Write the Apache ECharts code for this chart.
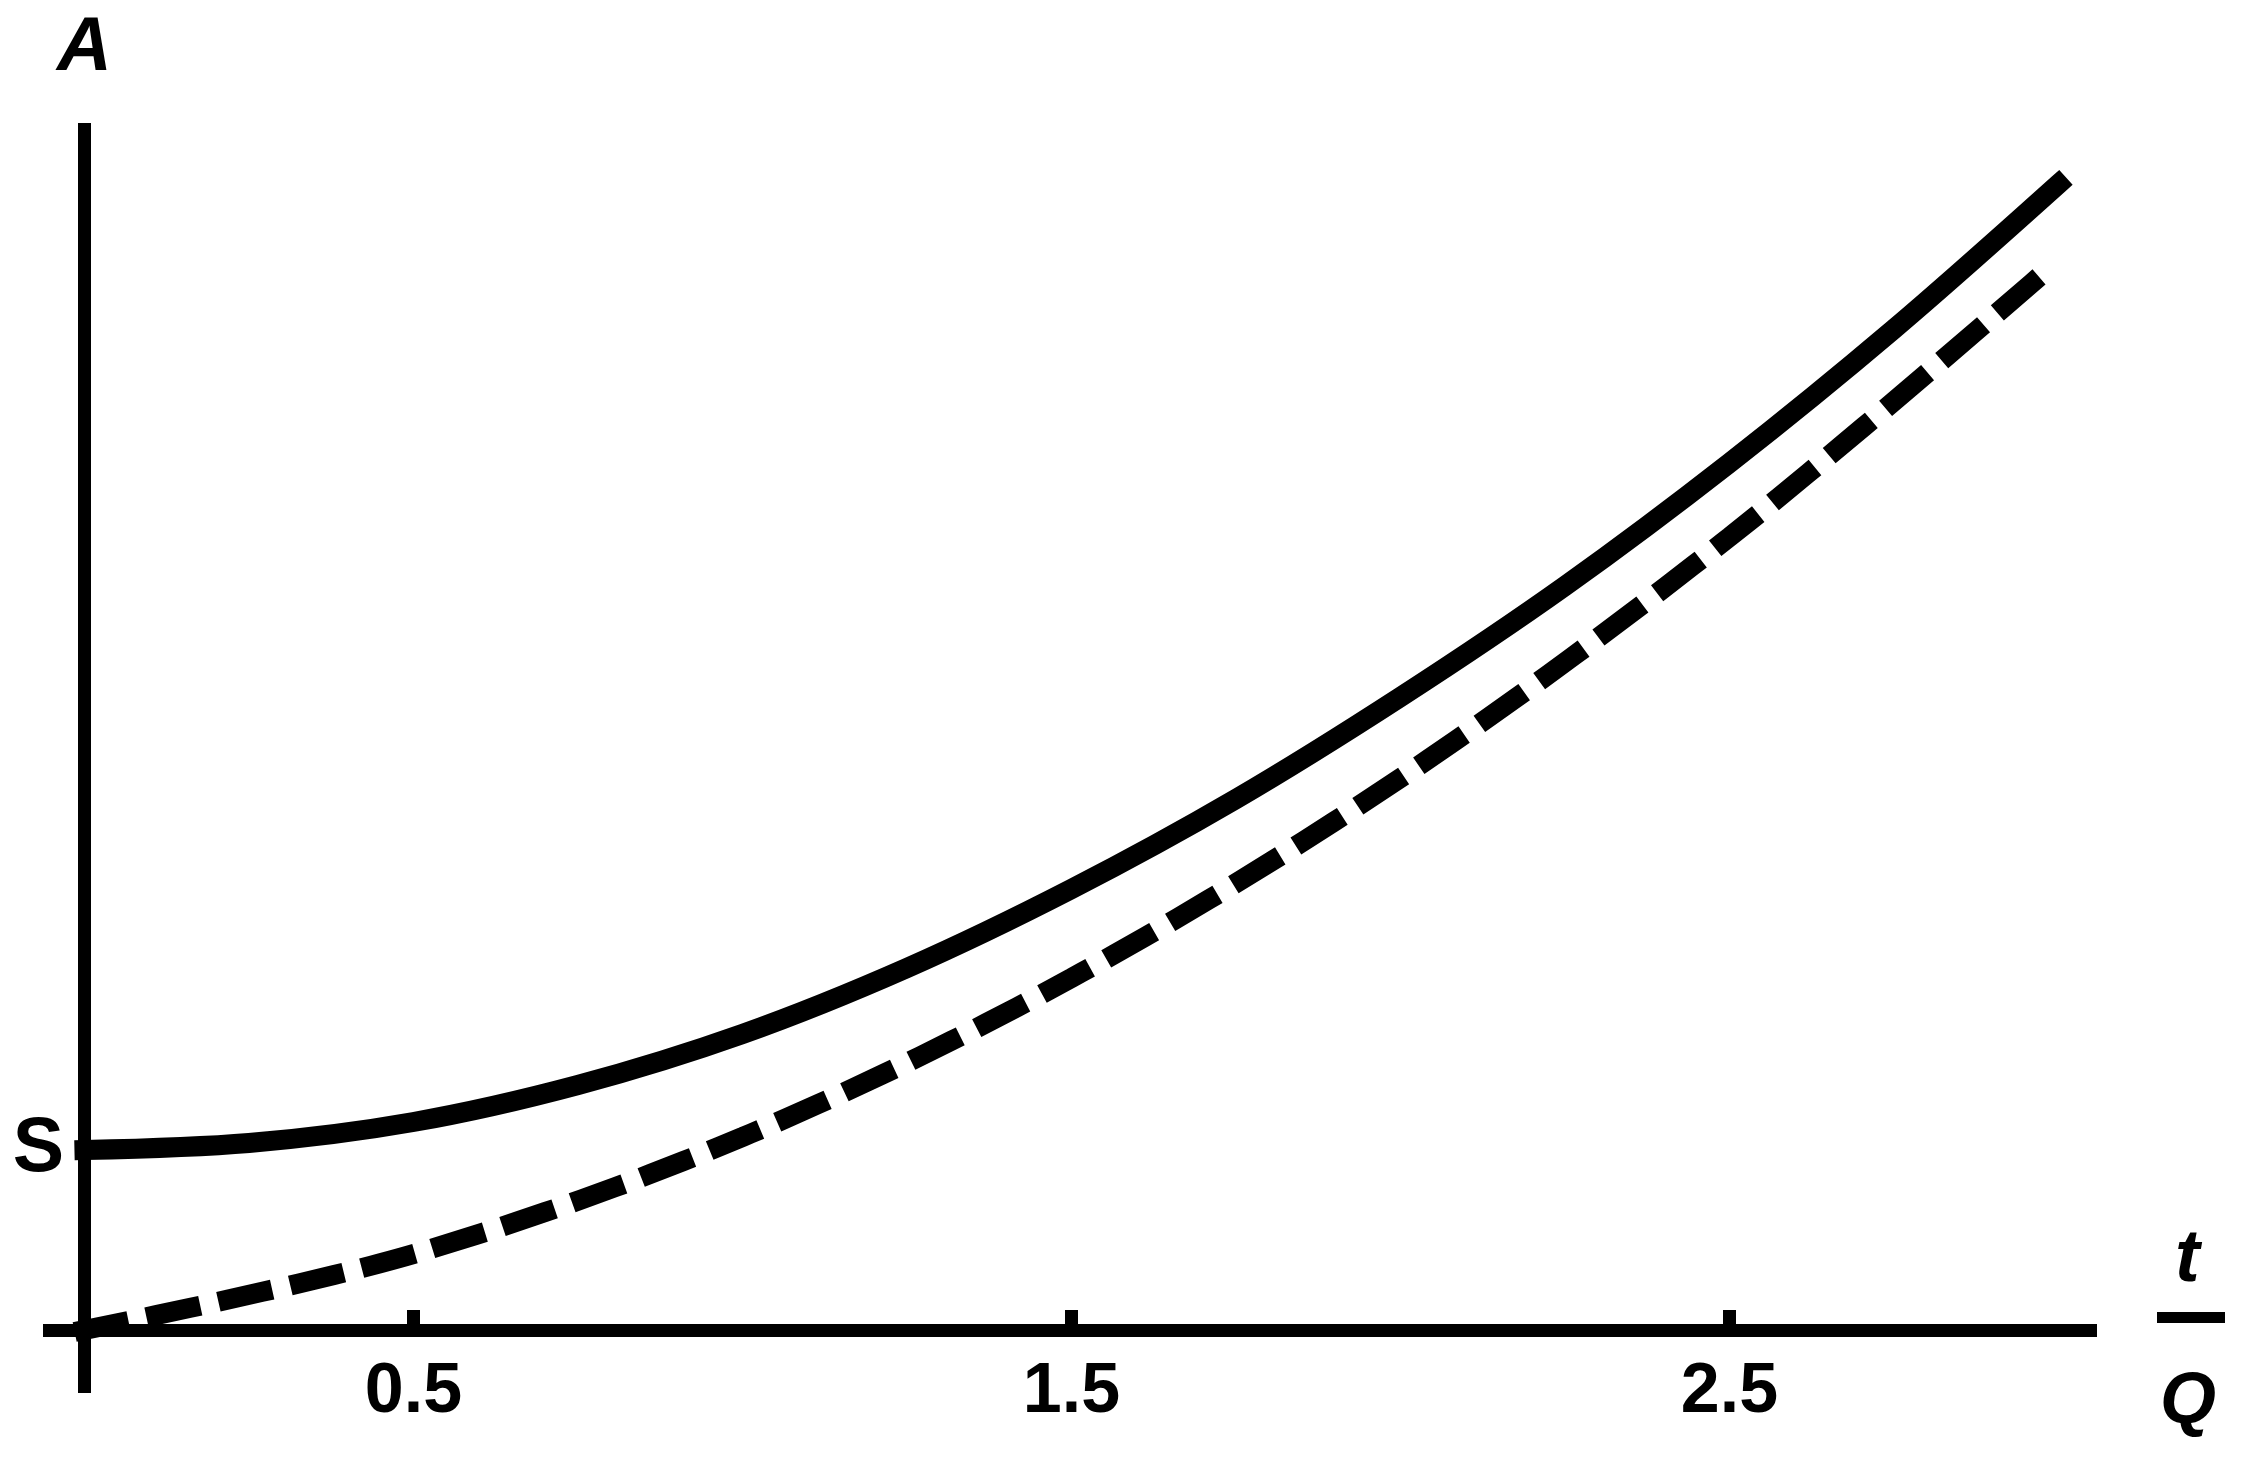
<!DOCTYPE html>
<html>
<head>
<meta charset="utf-8">
<script src="https://cdn.jsdelivr.net/npm/echarts@6/dist/echarts.min.js"></script>
<style>
  html, body { margin: 0; padding: 0; background: #fff; }
  #chart { width: 2249px; height: 1457px; }
</style>
</head>
<body>
<div id="chart"></div>
<script>
// Data (x in t/Q, y in arbitrary units)
var solidT = [0, 0.25, 0.5, 0.75, 1, 1.25, 1.5, 1.75, 2, 2.25, 2.5, 2.75, 3];
var solidValues = [1.80, 1.87, 2.08, 2.45, 2.96, 3.62, 4.41, 5.31, 6.33, 7.44, 8.67, 10.01, 11.46];
var dashedT = [0, 0.5, 1, 1.5, 2, 2.5, 3];
var dashedValues = [0, 0.76, 1.93, 3.52, 5.52, 7.93, 10.70];
var xTickValues = [0.5, 1.5, 2.5];
var xTickLabels = ['0.5', '1.5', '2.5'];
var yMarkValues = [1.80];
var yMarkLabels = ['S'];

var FONT = '"Liberation Sans", Arimo, Arial, sans-serif';

function pairs(xs, ys) {
  return xs.map(function (x, i) { return [x, ys[i]]; });
}

var chart = echarts.init(document.getElementById('chart'), null, { renderer: 'canvas' });

chart.setOption({
  backgroundColor: '#ffffff',
  animation: false,
  grid: { left: 43, right: 152, top: 123, bottom: 64, outerBoundsMode: 'none' },
  xAxis: {
    type: 'value',
    min: -0.063,
    max: 3.0585,
    axisLine: { show: true, onZero: true, lineStyle: { color: '#000', width: 13, cap: 'butt' } },
    axisTick: {
      show: true, inside: true, length: 20,
      customValues: xTickValues,
      lineStyle: { color: '#000', width: 13 }
    },
    axisLabel: {
      show: true,
      customValues: xTickValues,
      formatter: function (v) {
        var i = xTickValues.indexOf(v);
        return i >= 0 ? xTickLabels[i] : '';
      },
      margin: -35,
      fontFamily: FONT, fontWeight: 'bold', fontSize: 70, color: '#000'
    },
    splitLine: { show: false }
  },
  yAxis: {
    type: 'value',
    min: -0.63,
    max: 12.07,
    name: 'A',
    nameLocation: 'end',
    nameGap: 36,
    nameTextStyle: {
      fontFamily: FONT, fontWeight: 'bold', fontStyle: 'italic', fontSize: 76, color: '#000'
    },
    axisLine: { show: true, onZero: true, lineStyle: { color: '#000', width: 13, cap: 'butt' } },
    axisTick: { show: false },
    axisLabel: {
      show: true,
      customValues: yMarkValues,
      formatter: function (v) {
        var i = yMarkValues.indexOf(v);
        return i >= 0 ? yMarkLabels[i] : '';
      },
      margin: -21,
      fontFamily: FONT, fontWeight: 'bold', fontSize: 77, color: '#000'
    },
    splitLine: { show: false }
  },
  graphic: [
    {
      type: 'text', left: 2175, top: 1224,
      style: { text: 't', fontFamily: FONT, fontStyle: 'italic', fontWeight: 'bold', fontSize: 74, fill: '#000' }
    },
    {
      type: 'rect', shape: { x: 2157, y: 1312, width: 68, height: 11 },
      style: { fill: '#000' }
    },
    {
      type: 'text', left: 2160, top: 1367,
      style: { text: 'Q', fontFamily: FONT, fontStyle: 'italic', fontWeight: 'bold', fontSize: 72, fill: '#000' }
    }
  ],
  series: [
    {
      name: 'solid',
      type: 'line',
      data: pairs(solidT, solidValues),
      smooth: 0.33,
      showSymbol: false,
      symbol: 'none',
      clip: false,
      lineStyle: { color: '#000', width: 20, cap: 'square' }
    },
    {
      name: 'dashed',
      type: 'line',
      data: pairs(dashedT, dashedValues),
      smooth: 0.33,
      showSymbol: false,
      symbol: 'none',
      clip: false,
      lineStyle: { color: '#000', width: 20, type: [35, 38.5], cap: 'square' }
    }
  ]
});
</script>
</body>
</html>
